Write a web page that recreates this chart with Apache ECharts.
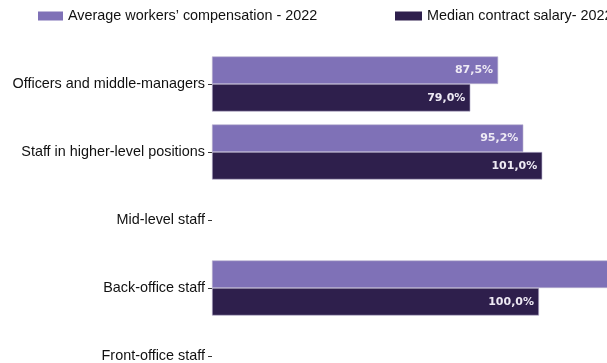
<!DOCTYPE html>
<html>
<head>
<meta charset="utf-8">
<script src="https://cdn.jsdelivr.net/npm/echarts@6/dist/echarts.min.js"></script>
<style>
  html, body { margin: 0; padding: 0; background: #fff; }
  #chart { width: 607px; height: 363px; }
</style>
</head>
<body>
<div id="chart"></div>
<script>
// Job categories, listed top to bottom
const categories = [
  'Officers and middle-managers',
  'Staff in higher-level positions',
  'Mid-level staff',
  'Back-office staff',
  'Front-office staff'
];
const seriesNames = ['Average workers’ compensation - 2022', 'Median contract salary- 2022'];
// Values in percent; null where no figure is available
const avgCompensation = [87.5, 95.2, null, 140.0, null];
const medianSalary = [79.0, 101.0, null, 100.0, null];

const colors = ['#7F71B7', '#2E1F4C'];

const chart = echarts.init(document.getElementById('chart'), null, { renderer: 'canvas' });

function fmt(v) {
  return v.toFixed(1).replace('.', ',') + '%';
}

const barLabel = {
  show: true,
  position: 'insideRight',
  distance: 5,
  color: '#EEEAF4',
  fontFamily: 'DejaVu Sans',
  fontWeight: 'bold',
  fontSize: 11,
  formatter: p => fmt(p.value)
};

const legendText = { fontFamily: 'Liberation Sans', fontSize: 14.4, color: '#111' };

chart.setOption({
  animation: false,
  legend: [
    {
      data: [seriesNames[0]],
      left: 33, top: 4,
      itemWidth: 25, itemHeight: 9, itemGap: 0,
      icon: 'rect',
      itemStyle: { borderWidth: 0 },
      textStyle: legendText
    },
    {
      data: [seriesNames[1]],
      left: 390, top: 4,
      itemWidth: 27, itemHeight: 9, itemGap: 0,
      icon: 'rect',
      itemStyle: { borderWidth: 0 },
      textStyle: legendText
    }
  ],
  grid: { left: 212, top: 50, width: 490.5, height: 340, containLabel: false, outerBoundsMode: 'none' },
  xAxis: {
    type: 'value', min: 0, max: 150, show: false
  },
  yAxis: {
    type: 'category',
    data: categories,
    inverse: true,
    axisLine: { show: false },
    axisTick: { show: true, alignWithLabel: true, length: 4, lineStyle: { color: '#333', width: 1 } },
    axisLabel: { margin: 7, fontFamily: 'Liberation Sans', fontSize: 14.4, color: '#111' }
  },
  series: [
    {
      name: seriesNames[0], type: 'bar', data: avgCompensation,
      barGap: '0%', barCategoryGap: '19%', clip: false,
      itemStyle: { color: colors[0], borderColor: '#B8B2CF', borderWidth: 0.6 },
      label: barLabel
    },
    {
      name: seriesNames[1], type: 'bar', data: medianSalary, clip: false,
      itemStyle: { color: colors[1], borderColor: '#B8B2CF', borderWidth: 0.6 },
      label: barLabel
    }
  ]
});
</script>
</body>
</html>
